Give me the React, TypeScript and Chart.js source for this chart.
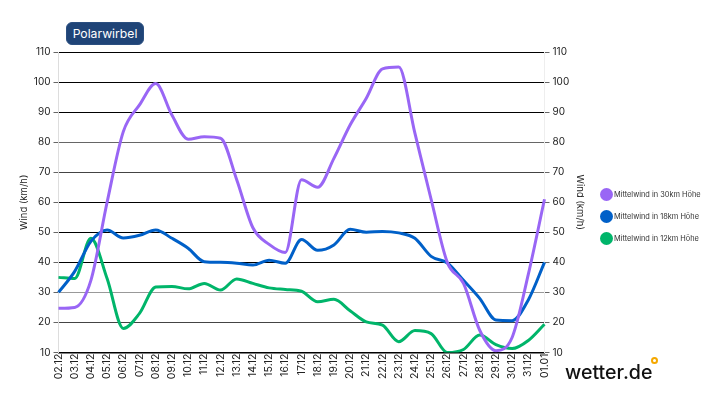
import { useEffect, useRef } from "react"
import Chart from "chart.js/auto"

const days = ["02.12","03.12","04.12","05.12","06.12","07.12","08.12","09.12","10.12","11.12","12.12","13.12","14.12","15.12","16.12","17.12","18.12","19.12","20.12","21.12","22.12","23.12","24.12","25.12","26.12","27.12","28.12","29.12","30.12","31.12","01.01"]
const wind30 = [24.7,25,34,60,83.5,92.4,99.5,89,81,81.8,81.3,67.5,51.5,46,43.3,67.5,65,74.6,85.7,94.6,104.4,105,83,61,40,33,17.4,10.6,15,36,61]
const wind18 = [30,37,47,50.8,48.1,49,50.8,48,44.7,40.2,40,39.7,39.1,40.7,39.7,47.6,44,45.8,51,50,50.3,49.8,48,42,39.8,34,28,20.8,20.6,27.5,40]
const wind12 = [35,34.6,48,34.6,18,23,31.8,32,31.2,33,30.8,34.5,33,31.5,31,30.4,26.9,27.7,23.9,20.2,19.1,13.6,17.3,16.3,10,11,15.8,12.6,11.3,14,19.4]
const seriesNames = ["Mittelwind in 30km Höhe", "Mittelwind in 18km Höhe", "Mittelwind in 12km Höhe"]
const seriesColors = ["#9966f5", "#0060c8", "#00b56a"]
const gridTones: Record<number, string> = { 20: "#444", 30: "#999", 70: "#444", 80: "#666" }

const fontFamily = "Inter, sans-serif"

export default function App() {
  const canvasRef = useRef<HTMLCanvasElement>(null)

  useEffect(() => {
    document.body.style.margin = "0"
    if (!canvasRef.current) return
    const chart = new Chart(canvasRef.current, {
      type: "line",
      data: {
        labels: days,
        datasets: [wind30, wind18, wind12].map((values, i) => ({
          label: seriesNames[i],
          data: values,
          borderColor: seriesColors[i],
          backgroundColor: seriesColors[i],
          borderWidth: 3,
          pointRadius: 0,
          cubicInterpolationMode: "monotone",
          yAxisID: "y",
        })),
      },
      options: {
        animation: false,
        responsive: false,
        layout: { padding: { top: 52, left: 18, right: 131, bottom: 0 } },
        plugins: { legend: { display: false }, tooltip: { enabled: false } },
        scales: {
          x: {
            offset: false,
            afterFit: (scale: any) => { scale.height = 50.5 },
            grid: { drawOnChartArea: false, drawTicks: false },
            border: { color: "#000", width: 1.5 },
            ticks: { autoSkip: false, minRotation: 90, maxRotation: 90, padding: 1, color: "#222", font: { family: fontFamily, size: 10.5 } },
          },
          y: {
            min: 10,
            max: 110,
            afterFit: (scale: any) => { scale.width = 40.5 },
            border: { color: "#ddd" },
            grid: {
              color: (ctx: any) => gridTones[ctx.tick?.value] ?? "#000",
              tickColor: "#666",
              tickLength: 5,
            },
            ticks: { stepSize: 10, padding: 3, color: "#222", font: { family: fontFamily, size: 10 } },
            title: { display: true, text: "Wind (km/h)", color: "#222", padding: 0, font: { family: fontFamily, size: 9.5 } },
          },
          y1: {
            position: "right",
            min: 10,
            max: 110,
            afterFit: (scale: any) => { scale.width = 41.5 },
            border: { color: "#eee" },
            grid: { drawOnChartArea: false, tickColor: "#666", tickLength: 5 },
            ticks: { stepSize: 10, padding: 3, color: "#222", font: { family: fontFamily, size: 10 } },
            title: { display: true, text: "Wind (km/h)", color: "#222", padding: 0, font: { family: fontFamily, size: 9.5 } },
          },
        },
      },
    } as any)
    return () => chart.destroy()
  }, [])

  return (
    <div style={{ position: "relative", width: 717, height: 403, overflow: "hidden", fontFamily, background: "#fff" }}>
      <canvas ref={canvasRef} width={717} height={403} style={{ position: "absolute", left: 0, top: 0 }} />
      <div style={{ position: "absolute", left: 66, top: 22, width: 78, height: 23, boxSizing: "border-box", background: "#1f4477", border: "1px solid #2b4f80", borderRadius: 6, color: "#fff", fontSize: 12.2, lineHeight: "21px", textAlign: "center" }}>
        Polarwirbel
      </div>
      {seriesNames.map((name, i) => (
        <div key={name} style={{ position: "absolute", left: 600, top: 187 + i * 22, height: 14, display: "flex", alignItems: "center", whiteSpace: "nowrap", fontSize: 7.4, color: "#333" }}>
          <span style={{ width: 13, height: 13, borderRadius: "50%", background: seriesColors[i], marginRight: 1 }} />
          {name}
        </div>
      ))}
      <div style={{ position: "absolute", left: 565, top: 358, fontSize: 19.6, lineHeight: "28px", fontWeight: 500, color: "#111", whiteSpace: "nowrap" }}>
        wetter.de
      </div>
      <div style={{ position: "absolute", left: 651, top: 357, width: 7, height: 7, boxSizing: "border-box", border: "2px solid #f5a800", borderRadius: "50%" }} />
    </div>
  )
}
